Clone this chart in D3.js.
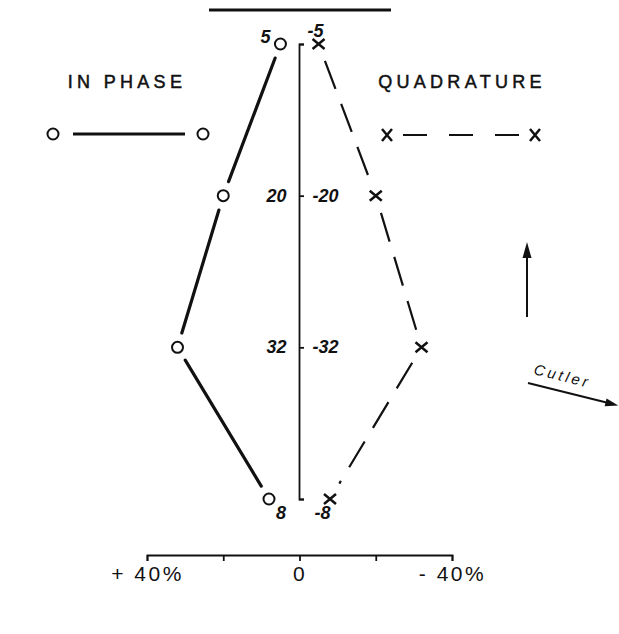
<!DOCTYPE html>
<meta charset="utf-8">
<style>
  body { margin: 0; background: #fff; }
  svg { display: block; }
  .legend-title { font-family: "Liberation Sans", Arial, sans-serif; font-size: 18px; letter-spacing: 4.3px; fill: #111; stroke: #111; stroke-width: 0.5px; }
  .val { font-family: "Liberation Sans", Arial, sans-serif; font-size: 18px; font-weight: bold; font-style: italic; fill: #111; }
  .pct text { font-family: "Liberation Sans", Arial, sans-serif; font-size: 21px; letter-spacing: 2.5px; fill: #111; }
  .cutler { font-family: "Liberation Sans", Arial, sans-serif; font-size: 15px; font-style: italic; letter-spacing: 3px; fill: #111; }
</style>
<body>
<svg width="619" height="634"></svg>
<script src="https://d3js.org/d3.v7.min.js"></script>
<script>
// four stations, top to bottom
var levels = [0, 1, 2, 3];
var inPhase = [5, 20, 32, 8];
var quadrature = [-5, -20, -32, -8];
var inPhaseLabels = ["5", "20", "32", "8"];
var quadLabels = ["-5", "-20", "-32", "-8"];
var pctTicks = [40, 20, 0, -20, -40];
var pctLabels = ["+ 40%", "", "0", "", "- 40%"];

var svg = d3.select("svg");
var x = d3.scaleLinear().domain([40, -40]).range([147, 452]);
var y = d3.scalePoint().domain(levels).range([44, 499]);
var x0 = x(0);

/* bar at the top */
svg.append("line")
  .attr("x1", 209).attr("x2", 391).attr("y1", 10).attr("y2", 10)
  .attr("stroke", "#111").attr("stroke-width", 3);

/* vertical axis */
var yAxis = svg.append("g")
  .attr("transform", "translate(" + (x0 - 0.5) + ",0)")
  .call(d3.axisRight(y).tickSizeInner(5).tickSizeOuter(5).tickFormat(""));
yAxis.selectAll("path, line").attr("stroke", "#111").attr("stroke-width", 1.8);

/* bottom % scale */
var xAxis = svg.append("g")
  .attr("class", "pct")
  .attr("transform", "translate(0,555)")
  .call(d3.axisBottom(x).tickValues(pctTicks).tickSizeInner(6).tickSizeOuter(6)
    .tickFormat(function(d, i) { return pctLabels[i]; }));
xAxis.selectAll("path, line").attr("stroke", "#111").attr("stroke-width", 1.8);
xAxis.selectAll("text").attr("y", 11).attr("font-size", null).attr("font-family", null);

/* segments with a gap at each marker */
function gapped(a, b, gap) {
  var dx = b[0] - a[0], dy = b[1] - a[1], len = Math.sqrt(dx * dx + dy * dy);
  var ux = dx / len, uy = dy / len;
  return [a[0] + ux * gap, a[1] + uy * gap, b[0] - ux * gap, b[1] - uy * gap];
}

var ipPts = levels.map(function(l, i) { return [x(inPhase[i]), y(l)]; });
var qPts = levels.map(function(l, i) { return [x(quadrature[i]), y(l)]; });

svg.append("g").selectAll("line")
  .data(d3.pairs(ipPts))
  .enter().append("line")
    .each(function(p) {
      var s = gapped(p[0], p[1], 15);
      d3.select(this).attr("x1", s[0]).attr("y1", s[1]).attr("x2", s[2]).attr("y2", s[3]);
    })
    .attr("stroke", "#111").attr("stroke-width", 3.2).attr("stroke-linecap", "round");

svg.append("g").selectAll("line")
  .data(d3.pairs(qPts))
  .enter().append("line")
    .each(function(p) {
      var s = gapped(p[0], p[1], 18);
      d3.select(this).attr("x1", s[0]).attr("y1", s[1]).attr("x2", s[2]).attr("y2", s[3]);
    })
    .attr("stroke", "#111").attr("stroke-width", 2.2).attr("stroke-dasharray", "30,16");

/* markers */
svg.append("g").selectAll("circle")
  .data(ipPts)
  .enter().append("circle")
    .attr("cx", function(d) { return d[0]; })
    .attr("cy", function(d) { return d[1]; })
    .attr("r", 5.5)
    .attr("fill", "#fff").attr("stroke", "#111").attr("stroke-width", 2);

var cross = "M-6,-5L6,5M-6,5L6,-5";
svg.append("g").selectAll("path")
  .data(qPts)
  .enter().append("path")
    .attr("transform", function(d) { return "translate(" + d[0] + "," + d[1] + ")"; })
    .attr("d", cross)
    .attr("stroke", "#111").attr("stroke-width", 2.5).attr("fill", "none");

/* value labels beside the axis */
svg.append("g").selectAll("text")
  .data(levels)
  .enter().append("text")
    .attr("class", "val")
    .attr("text-anchor", function(l, i) { return i == 3 ? "start" : "end"; })
    .attr("x", function(l, i) {
      if (i == 0) return x(inPhase[i]) - 10;
      if (i == 3) return x(inPhase[i]) + 7;
      return x0 - 13;
    })
    .attr("y", function(l, i) {
      if (i == 0) return y(l) - 1;
      if (i == 3) return y(l) + 20;
      return y(l) + 6;
    })
    .text(function(l, i) { return inPhaseLabels[i]; });

svg.append("g").selectAll("text")
  .data(levels)
  .enter().append("text")
    .attr("class", "val")
    .attr("x", function(l, i) {
      if (i == 0) return x0 + 8;
      if (i == 3) return x0 + 15;
      return x0 + 13;
    })
    .attr("y", function(l, i) {
      if (i == 0) return y(l) - 7;
      if (i == 3) return y(l) + 20;
      return y(l) + 6;
    })
    .text(function(l, i) { return quadLabels[i]; });

/* legend */
svg.append("text").attr("class", "legend-title")
  .attr("x", 127).attr("y", 88).attr("text-anchor", "middle").text("IN PHASE");
svg.append("text").attr("class", "legend-title")
  .attr("x", 462).attr("y", 88).attr("text-anchor", "middle").text("QUADRATURE");

svg.append("line")
  .attr("x1", 73).attr("x2", 185).attr("y1", 134).attr("y2", 134)
  .attr("stroke", "#111").attr("stroke-width", 3);
svg.append("g").selectAll("circle")
  .data([53, 203])
  .enter().append("circle")
    .attr("cx", function(d) { return d; }).attr("cy", 134).attr("r", 5.5)
    .attr("fill", "#fff").attr("stroke", "#111").attr("stroke-width", 2);

svg.append("line")
  .attr("x1", 403).attr("x2", 519).attr("y1", 135).attr("y2", 135)
  .attr("stroke", "#111").attr("stroke-width", 2).attr("stroke-dasharray", "24,22");
svg.append("g").selectAll("path")
  .data([387, 535])
  .enter().append("path")
    .attr("transform", function(d) { return "translate(" + d + ",135)"; })
    .attr("d", "M-5,-6L5,6M-5,6L5,-6")
    .attr("stroke", "#111").attr("stroke-width", 2.5).attr("fill", "none");

/* north arrow */
svg.append("line")
  .attr("x1", 527).attr("x2", 527).attr("y1", 252).attr("y2", 317)
  .attr("stroke", "#111").attr("stroke-width", 2);
svg.append("path")
  .attr("d", "M527,242L522.5,258L531.5,258Z").attr("fill", "#111");

/* Cutler arrow */
var ang = 14;
svg.append("text").attr("class", "cutler")
  .attr("transform", "translate(533,374) rotate(" + ang + ")")
  .text("Cutler");
var g = svg.append("g").attr("transform", "translate(528,383) rotate(" + ang + ")");
g.append("line").attr("x1", 0).attr("x2", 84).attr("y1", 0).attr("y2", 0)
  .attr("stroke", "#111").attr("stroke-width", 2);
g.append("path").attr("d", "M93,0L80,-4L80,4Z").attr("fill", "#111");
</script>
</body>
